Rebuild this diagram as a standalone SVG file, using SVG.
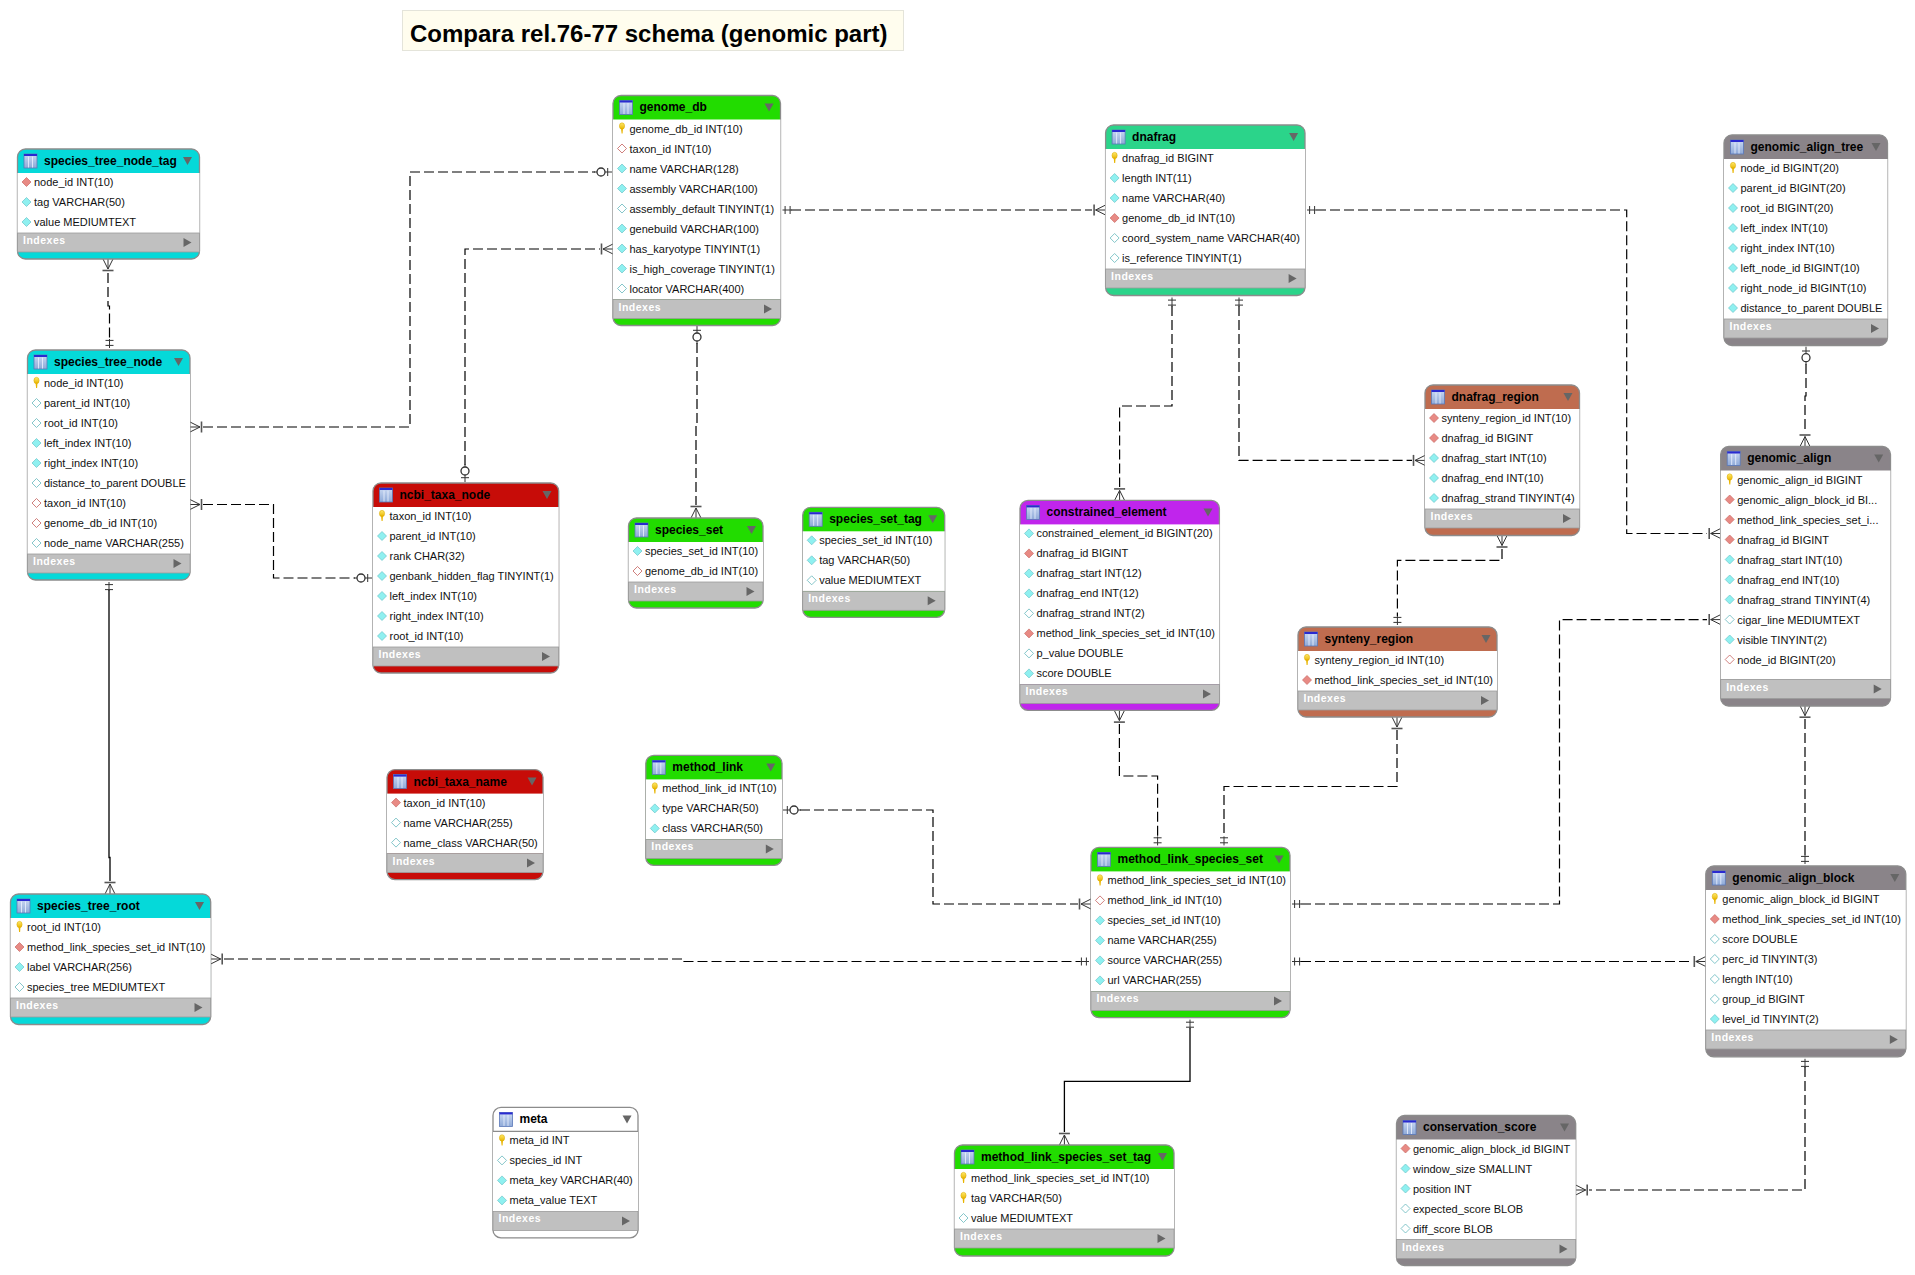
<svg xmlns="http://www.w3.org/2000/svg" width="1915" height="1275" viewBox="0 0 1915 1275">
<style>
text{font-family:"Liberation Sans",Arial,sans-serif}
.title{font-size:24px;font-weight:bold;fill:#000}
.h{font-size:12px;font-weight:bold;fill:#000;transform:translateY(-.6px)}
.t{font-size:11px;fill:#111}
.ix{font-size:10.5px;font-weight:bold;fill:#fff;letter-spacing:.5px}
.o{stroke:#8c8c8c;stroke-width:1.3}
.w{fill:#fff}
.b{fill:#c0c0c0;stroke:#9c9c9c;stroke-width:.8}
.cn{fill:none;stroke:#000;stroke-width:1.2;stroke-dasharray:10 4}
.sl{fill:none;stroke:#000;stroke-width:1.3}
.cy{fill:#05d9d9}.gr{fill:#22dc00}.re{fill:#c70c08}.te{fill:#2bd48a}.br{fill:#bf6c4f}.ga{fill:#8a8489}.pu{fill:#c025ec}.wh{fill:#fff}
.m{fill:none;stroke:#333;stroke-width:1}
.mb{fill:none;stroke:#555;stroke-width:1.6}
.mc{fill:#fff;stroke:#333;stroke-width:1.3}
</style>
<defs>
<linearGradient id="ig" x1="0" y1="0" x2="0" y2="1"><stop offset="0" stop-color="#c9d8f2"/><stop offset="1" stop-color="#8faad8"/></linearGradient>
<linearGradient id="kg" x1="0" y1="0" x2="0" y2="1"><stop offset="0" stop-color="#ffe96a"/><stop offset="1" stop-color="#e8b400"/></linearGradient>
<g id="ico"><rect x="0" y="0" width="13" height="14" fill="url(#ig)" stroke="#5a78b8" stroke-width=".8"/><rect x="0" y="0" width="13" height="2" fill="#2a2ad0"/><path d="M4.5 2.5V13.5M8.5 2.5V13.5" stroke="#eef3ff" stroke-width=".8"/></g>
<path id="td" d="M-4.5-4H4.5L0 4Z" fill="#666"/>
<path id="tr" d="M-4-4.5V4.5L4 0Z" fill="#666"/>
<g id="k"><ellipse cx="0" cy="-2.5" rx="2.6" ry="3.2" fill="url(#kg)" stroke="#d8a800" stroke-width=".5"/><path d="M-1-.5H1L.6 5H-.4Z" fill="#e8b400"/></g>
<path id="c" d="M-4.5 0L0-4.5L4.5 0L0 4.5Z" fill="#8ff0f0" stroke="#6cc4c8" stroke-width=".7"/>
<path id="o" d="M-4.5 0L0-4.5L4.5 0L0 4.5Z" fill="#fff" stroke="#66b8bc" stroke-width=".8"/>
<path id="r" d="M-4.5 0L0-4.5L4.5 0L0 4.5Z" fill="#e88a84" stroke="#c86a66" stroke-width=".7"/>
<path id="ro" d="M-4.5 0L0-4.5L4.5 0L0 4.5Z" fill="#fff" stroke="#c4605c" stroke-width=".8"/>
<g id="crow"><path class="m" d="M0-5L10 0L0 5M0 0H10"/><path class="mb" d="M11.5-5.5V5.5"/></g>
<g id="one"><path class="m" d="M2 0H11"/><path class="m" d="M4.6-4V4M9.6-4V4" stroke-width="1.3"/></g>
<g id="zero"><path class="m" d="M1 0H8M16 0H19"/><path class="m" d="M5.3-4V4" stroke-width="1.3"/><circle class="mc" cx="12" cy="0" r="4"/></g>
</defs>

<g id="title"><rect x="402.5" y="10.5" width="501" height="40" fill="#fffdee" stroke="#e4e4da" stroke-width="1"/><text class="title" x="410" y="42">Compara rel.76-77 schema (genomic part)</text></g>

<g id="connectors">
<path class="cn" d="M108 273V306H109.5V340"/>
<path class="cn" d="M203 427H410V172H595"/>
<path class="cn" d="M203 504.5H273.5V578H355"/>
<path class="cn" d="M465 465V249H600"/>
<path class="cn" d="M697 343V424H696V505"/>
<path class="cn" d="M791 210H1092"/>
<path class="cn" d="M1316 210H1626.7V533.5H1707"/>
<path class="cn" d="M1172 306V406H1119.6V487"/>
<path class="cn" d="M1239 306V460.4H1412"/>
<path class="cn" d="M1502 549V560.4H1397.4V616"/>
<path class="cn" d="M1806 364V396H1805V433"/>
<path class="cn" d="M1805 719V855"/>
<path class="cn" d="M1119.4 724V776H1157.6V836.5"/>
<path class="cn" d="M1397 730V786.5H1224V836.5"/>
<path class="cn" d="M1301 904H1559.5V619.6H1707"/>
<path class="cn" d="M800 810H933V904H1078"/>
<path class="cn" d="M224 959H684V961.5H1080"/>
<path class="cn" d="M1301 961.5H1692"/>
<path class="sl" d="M1190 1028V1081.4H1064.4V1132"/>
<path class="sl" d="M109 590V857.5H110V881"/>
<path class="cn" d="M1805 1067V1190H1589"/>
<use href="#crow" transform="translate(108,259) rotate(90)"/><use href="#one" transform="translate(109.5,350) rotate(-90)"/>
<use href="#crow" transform="translate(190,427)"/><use href="#zero" transform="translate(613,172) rotate(180)"/>
<use href="#crow" transform="translate(190,504.5)"/><use href="#zero" transform="translate(373,578) rotate(180)"/>
<use href="#zero" transform="translate(465,483) rotate(-90)"/><use href="#crow" transform="translate(613,249) rotate(180)"/>
<use href="#zero" transform="translate(697,325) rotate(90)"/><use href="#crow" transform="translate(696,518) rotate(-90)"/>
<use href="#one" transform="translate(780.5,210)"/><use href="#crow" transform="translate(1105.6,210) rotate(180)"/>
<use href="#one" transform="translate(1305,210)"/><use href="#crow" transform="translate(1720.7,533.5) rotate(180)"/>
<use href="#one" transform="translate(1172,295.5) rotate(90)"/><use href="#crow" transform="translate(1119.6,500.4) rotate(-90)"/>
<use href="#one" transform="translate(1239,295.5) rotate(90)"/><use href="#crow" transform="translate(1425,460.4) rotate(180)"/>
<use href="#crow" transform="translate(1502,535.5) rotate(90)"/><use href="#one" transform="translate(1397.4,627) rotate(-90)"/>
<use href="#zero" transform="translate(1806,345.7) rotate(90)"/><use href="#crow" transform="translate(1805,446.5) rotate(-90)"/>
<use href="#crow" transform="translate(1805,705.7) rotate(90)"/><use href="#one" transform="translate(1805,866) rotate(-90)"/>
<use href="#crow" transform="translate(1119.4,710.6) rotate(90)"/><use href="#one" transform="translate(1157.6,847.4) rotate(-90)"/>
<use href="#crow" transform="translate(1397,717) rotate(90)"/><use href="#one" transform="translate(1224,847.4) rotate(-90)"/>
<use href="#one" transform="translate(1290,904)"/><use href="#crow" transform="translate(1720.7,619.6) rotate(180)"/>
<use href="#zero" transform="translate(782,810)"/><use href="#crow" transform="translate(1091,904) rotate(180)"/>
<use href="#crow" transform="translate(210.7,959)"/><use href="#one" transform="translate(1091,961.5) rotate(180)"/>
<use href="#one" transform="translate(1290,961.5)"/><use href="#crow" transform="translate(1705.8,961.5) rotate(180)"/>
<use href="#one" transform="translate(1190,1017.6) rotate(90)"/><use href="#crow" transform="translate(1064.4,1145) rotate(-90)"/>
<use href="#one" transform="translate(109,580) rotate(90)"/><use href="#crow" transform="translate(110,894) rotate(-90)"/>
<use href="#one" transform="translate(1805,1056.8) rotate(90)"/><use href="#crow" transform="translate(1575.7,1190)"/>
</g>

<g id="species_tree_node_tag" transform="translate(17.5,149)">
<rect class="cy o" width="182" height="110" rx="8"/><rect class="w" y="24" width="182" height="60"/><rect class="b" y="84" width="182" height="19"/>
<use href="#ico" x="6.5" y="5"/><text class="h" x="26.5" y="16.5">species_tree_node_tag</text><use href="#td" x="170" y="12"/>
<use href="#r" x="9" y="33"/><text class="t" x="16.5" y="37">node_id INT(10)</text>
<use href="#c" x="9" y="53"/><text class="t" x="16.5" y="57">tag VARCHAR(50)</text>
<use href="#c" x="9" y="73"/><text class="t" x="16.5" y="77">value MEDIUMTEXT</text>
<text class="ix" x="5.5" y="95">Indexes</text><use href="#tr" x="170" y="93.5"/>
</g>

<g id="species_tree_node" transform="translate(27.5,350)">
<rect class="cy o" width="162.5" height="230" rx="8"/><rect class="w" y="24" width="162.5" height="180"/><rect class="b" y="204" width="162.5" height="19"/>
<use href="#ico" x="6.5" y="5"/><text class="h" x="26.5" y="16.5">species_tree_node</text><use href="#td" x="151" y="12"/>
<use href="#k" x="9" y="33"/><text class="t" x="16.5" y="37">node_id INT(10)</text>
<use href="#o" x="9" y="53"/><text class="t" x="16.5" y="57">parent_id INT(10)</text>
<use href="#o" x="9" y="73"/><text class="t" x="16.5" y="77">root_id INT(10)</text>
<use href="#c" x="9" y="93"/><text class="t" x="16.5" y="97">left_index INT(10)</text>
<use href="#c" x="9" y="113"/><text class="t" x="16.5" y="117">right_index INT(10)</text>
<use href="#o" x="9" y="133"/><text class="t" x="16.5" y="137">distance_to_parent DOUBLE</text>
<use href="#ro" x="9" y="153"/><text class="t" x="16.5" y="157">taxon_id INT(10)</text>
<use href="#ro" x="9" y="173"/><text class="t" x="16.5" y="177">genome_db_id INT(10)</text>
<use href="#o" x="9" y="193"/><text class="t" x="16.5" y="197">node_name VARCHAR(255)</text>
<text class="ix" x="5.5" y="215">Indexes</text><use href="#tr" x="150" y="213.5"/>
</g>

<g id="genome_db" transform="translate(613,95.5)">
<rect class="gr o" width="167.5" height="230" rx="8"/><rect class="w" y="24" width="167.5" height="180"/><rect class="b" y="204" width="167.5" height="19"/>
<use href="#ico" x="6.5" y="5"/><text class="h" x="26.5" y="16.5">genome_db</text><use href="#td" x="156" y="12"/>
<use href="#k" x="9" y="33"/><text class="t" x="16.5" y="37">genome_db_id INT(10)</text>
<use href="#ro" x="9" y="53"/><text class="t" x="16.5" y="57">taxon_id INT(10)</text>
<use href="#c" x="9" y="73"/><text class="t" x="16.5" y="77">name VARCHAR(128)</text>
<use href="#c" x="9" y="93"/><text class="t" x="16.5" y="97">assembly VARCHAR(100)</text>
<use href="#o" x="9" y="113"/><text class="t" x="16.5" y="117">assembly_default TINYINT(1)</text>
<use href="#c" x="9" y="133"/><text class="t" x="16.5" y="137">genebuild VARCHAR(100)</text>
<use href="#c" x="9" y="153"/><text class="t" x="16.5" y="157">has_karyotype TINYINT(1)</text>
<use href="#c" x="9" y="173"/><text class="t" x="16.5" y="177">is_high_coverage TINYINT(1)</text>
<use href="#o" x="9" y="193"/><text class="t" x="16.5" y="197">locator VARCHAR(400)</text>
<text class="ix" x="5.5" y="215">Indexes</text><use href="#tr" x="155" y="213.5"/>
</g>

<g id="ncbi_taxa_node" transform="translate(373,483)">
<rect class="re o" width="185.7" height="190" rx="8"/><rect class="w" y="24" width="185.7" height="140"/><rect class="b" y="164" width="185.7" height="19"/>
<use href="#ico" x="6.5" y="5"/><text class="h" x="26.5" y="16.5">ncbi_taxa_node</text><use href="#td" x="174" y="12"/>
<use href="#k" x="9" y="33"/><text class="t" x="16.5" y="37">taxon_id INT(10)</text>
<use href="#c" x="9" y="53"/><text class="t" x="16.5" y="57">parent_id INT(10)</text>
<use href="#c" x="9" y="73"/><text class="t" x="16.5" y="77">rank CHAR(32)</text>
<use href="#c" x="9" y="93"/><text class="t" x="16.5" y="97">genbank_hidden_flag TINYINT(1)</text>
<use href="#c" x="9" y="113"/><text class="t" x="16.5" y="117">left_index INT(10)</text>
<use href="#c" x="9" y="133"/><text class="t" x="16.5" y="137">right_index INT(10)</text>
<use href="#c" x="9" y="153"/><text class="t" x="16.5" y="157">root_id INT(10)</text>
<text class="ix" x="5.5" y="175">Indexes</text><use href="#tr" x="173" y="173.5"/>
</g>

<g id="species_set" transform="translate(628.5,518)">
<rect class="gr o" width="134.5" height="90" rx="8"/><rect class="w" y="24" width="134.5" height="40"/><rect class="b" y="64" width="134.5" height="19"/>
<use href="#ico" x="6.5" y="5"/><text class="h" x="26.5" y="16.5">species_set</text><use href="#td" x="123" y="12"/>
<use href="#c" x="9" y="33"/><text class="t" x="16.5" y="37">species_set_id INT(10)</text>
<use href="#ro" x="9" y="53"/><text class="t" x="16.5" y="57">genome_db_id INT(10)</text>
<text class="ix" x="5.5" y="75">Indexes</text><use href="#tr" x="122" y="73.5"/>
</g>

<g id="species_set_tag" transform="translate(802.7,507.3)">
<rect class="gr o" width="142" height="110" rx="8"/><rect class="w" y="24" width="142" height="60"/><rect class="b" y="84" width="142" height="19"/>
<use href="#ico" x="6.5" y="5"/><text class="h" x="26.5" y="16.5">species_set_tag</text><use href="#td" x="130" y="12"/>
<use href="#c" x="9" y="33"/><text class="t" x="16.5" y="37">species_set_id INT(10)</text>
<use href="#c" x="9" y="53"/><text class="t" x="16.5" y="57">tag VARCHAR(50)</text>
<use href="#o" x="9" y="73"/><text class="t" x="16.5" y="77">value MEDIUMTEXT</text>
<text class="ix" x="5.5" y="95">Indexes</text><use href="#tr" x="129" y="93.5"/>
</g>

<g id="dnafrag" transform="translate(1105.6,125)">
<rect class="te o" width="199.4" height="170.5" rx="8"/><rect class="w" y="24" width="199.4" height="120"/><rect class="b" y="144" width="199.4" height="19"/>
<use href="#ico" x="6.5" y="5"/><text class="h" x="26.5" y="16.5">dnafrag</text><use href="#td" x="188" y="12"/>
<use href="#k" x="9" y="33"/><text class="t" x="16.5" y="37">dnafrag_id BIGINT</text>
<use href="#c" x="9" y="53"/><text class="t" x="16.5" y="57">length INT(11)</text>
<use href="#c" x="9" y="73"/><text class="t" x="16.5" y="77">name VARCHAR(40)</text>
<use href="#r" x="9" y="93"/><text class="t" x="16.5" y="97">genome_db_id INT(10)</text>
<use href="#o" x="9" y="113"/><text class="t" x="16.5" y="117">coord_system_name VARCHAR(40)</text>
<use href="#o" x="9" y="133"/><text class="t" x="16.5" y="137">is_reference TINYINT(1)</text>
<text class="ix" x="5.5" y="155">Indexes</text><use href="#tr" x="187" y="153.5"/>
</g>

<g id="dnafrag_region" transform="translate(1425,385)">
<rect class="br o" width="154.5" height="150.5" rx="8"/><rect class="w" y="24" width="154.5" height="100"/><rect class="b" y="124" width="154.5" height="19"/>
<use href="#ico" x="6.5" y="5"/><text class="h" x="26.5" y="16.5">dnafrag_region</text><use href="#td" x="143" y="12"/>
<use href="#r" x="9" y="33"/><text class="t" x="16.5" y="37">synteny_region_id INT(10)</text>
<use href="#r" x="9" y="53"/><text class="t" x="16.5" y="57">dnafrag_id BIGINT</text>
<use href="#c" x="9" y="73"/><text class="t" x="16.5" y="77">dnafrag_start INT(10)</text>
<use href="#c" x="9" y="93"/><text class="t" x="16.5" y="97">dnafrag_end INT(10)</text>
<use href="#c" x="9" y="113"/><text class="t" x="16.5" y="117">dnafrag_strand TINYINT(4)</text>
<text class="ix" x="5.5" y="135">Indexes</text><use href="#tr" x="142" y="133.5"/>
</g>

<g id="genomic_align_tree" transform="translate(1724,135)">
<rect class="ga o" width="163.5" height="210.5" rx="8"/><rect class="w" y="24" width="163.5" height="160"/><rect class="b" y="184" width="163.5" height="19"/>
<use href="#ico" x="6.5" y="5"/><text class="h" x="26.5" y="16.5">genomic_align_tree</text><use href="#td" x="152" y="12"/>
<use href="#k" x="9" y="33"/><text class="t" x="16.5" y="37">node_id BIGINT(20)</text>
<use href="#c" x="9" y="53"/><text class="t" x="16.5" y="57">parent_id BIGINT(20)</text>
<use href="#c" x="9" y="73"/><text class="t" x="16.5" y="77">root_id BIGINT(20)</text>
<use href="#c" x="9" y="93"/><text class="t" x="16.5" y="97">left_index INT(10)</text>
<use href="#c" x="9" y="113"/><text class="t" x="16.5" y="117">right_index INT(10)</text>
<use href="#c" x="9" y="133"/><text class="t" x="16.5" y="137">left_node_id BIGINT(10)</text>
<use href="#c" x="9" y="153"/><text class="t" x="16.5" y="157">right_node_id BIGINT(10)</text>
<use href="#c" x="9" y="173"/><text class="t" x="16.5" y="177">distance_to_parent DOUBLE</text>
<text class="ix" x="5.5" y="195">Indexes</text><use href="#tr" x="151" y="193.5"/>
</g>

<g id="genomic_align" transform="translate(1720.7,446.5)">
<rect class="ga o" width="169.8" height="259.5" rx="8"/><rect class="w" y="24" width="169.8" height="209"/><rect class="b" y="233" width="169.8" height="19"/>
<use href="#ico" x="6.5" y="5"/><text class="h" x="26.5" y="16.5">genomic_align</text><use href="#td" x="158" y="12"/>
<use href="#k" x="9" y="33"/><text class="t" x="16.5" y="37">genomic_align_id BIGINT</text>
<use href="#r" x="9" y="53"/><text class="t" x="16.5" y="57">genomic_align_block_id BI...</text>
<use href="#r" x="9" y="73"/><text class="t" x="16.5" y="77">method_link_species_set_i...</text>
<use href="#r" x="9" y="93"/><text class="t" x="16.5" y="97">dnafrag_id BIGINT</text>
<use href="#c" x="9" y="113"/><text class="t" x="16.5" y="117">dnafrag_start INT(10)</text>
<use href="#c" x="9" y="133"/><text class="t" x="16.5" y="137">dnafrag_end INT(10)</text>
<use href="#c" x="9" y="153"/><text class="t" x="16.5" y="157">dnafrag_strand TINYINT(4)</text>
<use href="#o" x="9" y="173"/><text class="t" x="16.5" y="177">cigar_line MEDIUMTEXT</text>
<use href="#c" x="9" y="193"/><text class="t" x="16.5" y="197">visible TINYINT(2)</text>
<use href="#ro" x="9" y="213"/><text class="t" x="16.5" y="217">node_id BIGINT(20)</text>
<text class="ix" x="5.5" y="244">Indexes</text><use href="#tr" x="157" y="242.5"/>
</g>

<g id="constrained_element" transform="translate(1020,500.4)">
<rect class="pu o" width="199.4" height="210" rx="8"/><rect class="w" y="24" width="199.4" height="160"/><rect class="b" y="184" width="199.4" height="19"/>
<use href="#ico" x="6.5" y="5"/><text class="h" x="26.5" y="16.5">constrained_element</text><use href="#td" x="188" y="12"/>
<use href="#c" x="9" y="33"/><text class="t" x="16.5" y="37">constrained_element_id BIGINT(20)</text>
<use href="#r" x="9" y="53"/><text class="t" x="16.5" y="57">dnafrag_id BIGINT</text>
<use href="#c" x="9" y="73"/><text class="t" x="16.5" y="77">dnafrag_start INT(12)</text>
<use href="#c" x="9" y="93"/><text class="t" x="16.5" y="97">dnafrag_end INT(12)</text>
<use href="#o" x="9" y="113"/><text class="t" x="16.5" y="117">dnafrag_strand INT(2)</text>
<use href="#r" x="9" y="133"/><text class="t" x="16.5" y="137">method_link_species_set_id INT(10)</text>
<use href="#o" x="9" y="153"/><text class="t" x="16.5" y="157">p_value DOUBLE</text>
<use href="#c" x="9" y="173"/><text class="t" x="16.5" y="177">score DOUBLE</text>
<text class="ix" x="5.5" y="195">Indexes</text><use href="#tr" x="187" y="193.5"/>
</g>

<g id="synteny_region" transform="translate(1298,627)">
<rect class="br o" width="199" height="90" rx="8"/><rect class="w" y="24" width="199" height="40"/><rect class="b" y="64" width="199" height="19"/>
<use href="#ico" x="6.5" y="5"/><text class="h" x="26.5" y="16.5">synteny_region</text><use href="#td" x="188" y="12"/>
<use href="#k" x="9" y="33"/><text class="t" x="16.5" y="37">synteny_region_id INT(10)</text>
<use href="#r" x="9" y="53"/><text class="t" x="16.5" y="57">method_link_species_set_id INT(10)</text>
<text class="ix" x="5.5" y="75">Indexes</text><use href="#tr" x="187" y="73.5"/>
</g>

<g id="ncbi_taxa_name" transform="translate(387,769.6)">
<rect class="re o" width="156" height="110" rx="8"/><rect class="w" y="24" width="156" height="60"/><rect class="b" y="84" width="156" height="19"/>
<use href="#ico" x="6.5" y="5"/><text class="h" x="26.5" y="16.5">ncbi_taxa_name</text><use href="#td" x="145" y="12"/>
<use href="#r" x="9" y="33"/><text class="t" x="16.5" y="37">taxon_id INT(10)</text>
<use href="#o" x="9" y="53"/><text class="t" x="16.5" y="57">name VARCHAR(255)</text>
<use href="#o" x="9" y="73"/><text class="t" x="16.5" y="77">name_class VARCHAR(50)</text>
<text class="ix" x="5.5" y="95">Indexes</text><use href="#tr" x="144" y="93.5"/>
</g>

<g id="method_link" transform="translate(645.8,755.4)">
<rect class="gr o" width="136.2" height="110" rx="8"/><rect class="w" y="24" width="136.2" height="60"/><rect class="b" y="84" width="136.2" height="19"/>
<use href="#ico" x="6.5" y="5"/><text class="h" x="26.5" y="16.5">method_link</text><use href="#td" x="125" y="12"/>
<use href="#k" x="9" y="33"/><text class="t" x="16.5" y="37">method_link_id INT(10)</text>
<use href="#c" x="9" y="53"/><text class="t" x="16.5" y="57">type VARCHAR(50)</text>
<use href="#c" x="9" y="73"/><text class="t" x="16.5" y="77">class VARCHAR(50)</text>
<text class="ix" x="5.5" y="95">Indexes</text><use href="#tr" x="124" y="93.5"/>
</g>

<g id="species_tree_root" transform="translate(10.5,894)">
<rect class="cy o" width="200.2" height="130.5" rx="8"/><rect class="w" y="24" width="200.2" height="80"/><rect class="b" y="104" width="200.2" height="19"/>
<use href="#ico" x="6.5" y="5"/><text class="h" x="26.5" y="16.5">species_tree_root</text><use href="#td" x="189" y="12"/>
<use href="#k" x="9" y="33"/><text class="t" x="16.5" y="37">root_id INT(10)</text>
<use href="#r" x="9" y="53"/><text class="t" x="16.5" y="57">method_link_species_set_id INT(10)</text>
<use href="#c" x="9" y="73"/><text class="t" x="16.5" y="77">label VARCHAR(256)</text>
<use href="#o" x="9" y="93"/><text class="t" x="16.5" y="97">species_tree MEDIUMTEXT</text>
<text class="ix" x="5.5" y="115">Indexes</text><use href="#tr" x="188" y="113.5"/>
</g>

<g id="meta" transform="translate(493,1107.4)">
<rect class="wh o" width="145" height="130.5" rx="8"/><rect class="w" y="24" width="145" height="80"/><path d="M0 24H145" class="o"/><rect class="b" y="104" width="145" height="19"/>
<use href="#ico" x="6.5" y="5"/><text class="h" x="26.5" y="16.5">meta</text><use href="#td" x="134" y="12"/>
<use href="#k" x="9" y="33"/><text class="t" x="16.5" y="37">meta_id INT</text>
<use href="#o" x="9" y="53"/><text class="t" x="16.5" y="57">species_id INT</text>
<use href="#c" x="9" y="73"/><text class="t" x="16.5" y="77">meta_key VARCHAR(40)</text>
<use href="#c" x="9" y="93"/><text class="t" x="16.5" y="97">meta_value TEXT</text>
<text class="ix" x="5.5" y="115">Indexes</text><use href="#tr" x="133" y="113.5"/>
</g>

<g id="method_link_species_set" transform="translate(1091,847.4)">
<rect class="gr o" width="199" height="170.2" rx="8"/><rect class="w" y="24" width="199" height="120"/><rect class="b" y="144" width="199" height="19"/>
<use href="#ico" x="6.5" y="5"/><text class="h" x="26.5" y="16.5">method_link_species_set</text><use href="#td" x="188" y="12"/>
<use href="#k" x="9" y="33"/><text class="t" x="16.5" y="37">method_link_species_set_id INT(10)</text>
<use href="#ro" x="9" y="53"/><text class="t" x="16.5" y="57">method_link_id INT(10)</text>
<use href="#c" x="9" y="73"/><text class="t" x="16.5" y="77">species_set_id INT(10)</text>
<use href="#c" x="9" y="93"/><text class="t" x="16.5" y="97">name VARCHAR(255)</text>
<use href="#c" x="9" y="113"/><text class="t" x="16.5" y="117">source VARCHAR(255)</text>
<use href="#c" x="9" y="133"/><text class="t" x="16.5" y="137">url VARCHAR(255)</text>
<text class="ix" x="5.5" y="155">Indexes</text><use href="#tr" x="187" y="153.5"/>
</g>

<g id="genomic_align_block" transform="translate(1705.8,866)">
<rect class="ga o" width="200" height="190.8" rx="8"/><rect class="w" y="24" width="200" height="140"/><rect class="b" y="164" width="200" height="19"/>
<use href="#ico" x="6.5" y="5"/><text class="h" x="26.5" y="16.5">genomic_align_block</text><use href="#td" x="189" y="12"/>
<use href="#k" x="9" y="33"/><text class="t" x="16.5" y="37">genomic_align_block_id BIGINT</text>
<use href="#r" x="9" y="53"/><text class="t" x="16.5" y="57">method_link_species_set_id INT(10)</text>
<use href="#o" x="9" y="73"/><text class="t" x="16.5" y="77">score DOUBLE</text>
<use href="#o" x="9" y="93"/><text class="t" x="16.5" y="97">perc_id TINYINT(3)</text>
<use href="#o" x="9" y="113"/><text class="t" x="16.5" y="117">length INT(10)</text>
<use href="#o" x="9" y="133"/><text class="t" x="16.5" y="137">group_id BIGINT</text>
<use href="#c" x="9" y="153"/><text class="t" x="16.5" y="157">level_id TINYINT(2)</text>
<text class="ix" x="5.5" y="175">Indexes</text><use href="#tr" x="188" y="173.5"/>
</g>

<g id="method_link_species_set_tag" transform="translate(954.5,1145)">
<rect class="gr o" width="219.5" height="111" rx="8"/><rect class="w" y="24" width="219.5" height="60"/><rect class="b" y="84" width="219.5" height="19"/>
<use href="#ico" x="6.5" y="5"/><text class="h" x="26.5" y="16.5">method_link_species_set_tag</text><use href="#td" x="208" y="12"/>
<use href="#k" x="9" y="33"/><text class="t" x="16.5" y="37">method_link_species_set_id INT(10)</text>
<use href="#k" x="9" y="53"/><text class="t" x="16.5" y="57">tag VARCHAR(50)</text>
<use href="#o" x="9" y="73"/><text class="t" x="16.5" y="77">value MEDIUMTEXT</text>
<text class="ix" x="5.5" y="95">Indexes</text><use href="#tr" x="207" y="93.5"/>
</g>

<g id="conservation_score" transform="translate(1396.5,1115.5)">
<rect class="ga o" width="179.2" height="150" rx="8"/><rect class="w" y="24" width="179.2" height="100"/><rect class="b" y="124" width="179.2" height="19"/>
<use href="#ico" x="6.5" y="5"/><text class="h" x="26.5" y="16.5">conservation_score</text><use href="#td" x="168" y="12"/>
<use href="#r" x="9" y="33"/><text class="t" x="16.5" y="37">genomic_align_block_id BIGINT</text>
<use href="#c" x="9" y="53"/><text class="t" x="16.5" y="57">window_size SMALLINT</text>
<use href="#c" x="9" y="73"/><text class="t" x="16.5" y="77">position INT</text>
<use href="#o" x="9" y="93"/><text class="t" x="16.5" y="97">expected_score BLOB</text>
<use href="#o" x="9" y="113"/><text class="t" x="16.5" y="117">diff_score BLOB</text>
<text class="ix" x="5.5" y="135">Indexes</text><use href="#tr" x="167" y="133.5"/>
</g>
</svg>
